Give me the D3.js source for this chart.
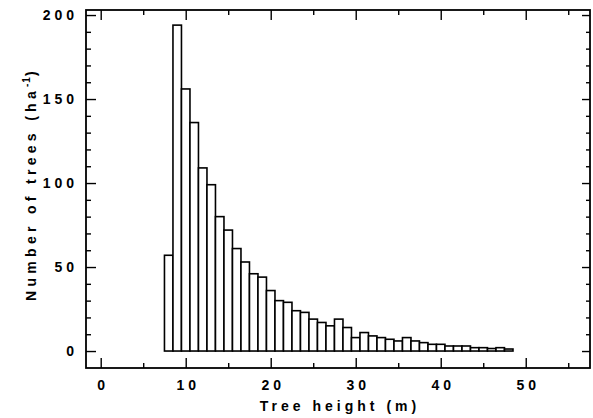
<!DOCTYPE html>
<html>
<head>
<meta charset="utf-8">
<script src="https://cdn.jsdelivr.net/npm/d3@7"></script>
<style>
  body { margin: 0; background: #fff; }
  text { font-family: "Liberation Sans", Arial, sans-serif; font-weight: bold; fill: #000; }
</style>
</head>
<body>
<div id="container"></div>
<script>
/* DATA */
const heights = [8, 9, 10, 11, 12, 13, 14, 15, 16, 17, 18, 19, 20, 21, 22, 23, 24, 25, 26, 27, 28,
  29, 30, 31, 32, 33, 34, 35, 36, 37, 38, 39, 40, 41, 42, 43, 44, 45, 46, 47, 48]
const trees = [57, 194, 156, 136, 109, 99, 80, 72, 61, 53, 46, 44, 36, 30, 29, 24, 23, 19, 17, 15, 19,
  14, 8, 11, 9, 8, 7, 6, 8, 6, 5, 4, 4, 3, 3, 3, 2, 2, 1.5, 2, 1.2]
const xTicks = [0, 10, 20, 30, 40, 50]
const yTicks = [0, 50, 100, 150, 200]

/* CONSTANTS */
const width = 593,
  height = 418,
  margin = {top: 10, bottom: 50, left: 86, right: 3}

const svg = d3.select("#container")
  .append("svg")
  .attr("width", width)
  .attr("height", height)

// SCALES
const xScale = d3.scaleLinear()
  .domain([-1.73, 57.56])
  .range([margin.left, width - margin.right])

const yScale = d3.scaleLinear()
  .domain([-10.1, 203])
  .range([height - margin.bottom, margin.top])

const data = heights.map((h, i) => ({h: h, n: trees[i]}))

// BARS
svg.selectAll("rect.bar")
  .data(data)
  .join("rect")
  .attr("class", "bar")
  .attr("x", d => xScale(d.h - 0.5))
  .attr("width", d => xScale(d.h + 0.5) - xScale(d.h - 0.5))
  .attr("y", d => yScale(d.n))
  .attr("height", d => yScale(0) - yScale(d.n))
  .attr("fill", "white")
  .attr("stroke", "black")
  .attr("stroke-width", 1.6)

// AXES
const xMinor = d3.range(5, 56, 10)
const yMinor = d3.range(10, 201, 10).filter(v => v % 50 !== 0)
const plotBottom = height - margin.bottom, plotTop = margin.top
const plotLeft = margin.left, plotRight = width - margin.right

function styleAxis(g) {
  g.select(".domain").remove()
  g.selectAll("line").attr("stroke", "black").attr("stroke-width", 1.4)
  g.selectAll("text").style("font-size", "14px").style("letter-spacing", "4px")
}

// bottom
svg.append("g")
  .attr("transform", `translate(0,${plotBottom})`)
  .call(d3.axisBottom(xScale).tickValues(xTicks).tickSizeInner(-10).tickPadding(12).tickFormat(d3.format("d")))
  .call(styleAxis)
  .call(g => g.selectAll("text").attr("dx", 2))
svg.append("g")
  .attr("transform", `translate(0,${plotBottom})`)
  .call(d3.axisBottom(xScale).tickValues(xMinor).tickSizeInner(-5).tickFormat(""))
  .call(styleAxis)

// top
svg.append("g")
  .attr("transform", `translate(0,${plotTop})`)
  .call(d3.axisTop(xScale).tickValues(xTicks).tickSizeInner(-10).tickFormat(""))
  .call(styleAxis)
svg.append("g")
  .attr("transform", `translate(0,${plotTop})`)
  .call(d3.axisTop(xScale).tickValues(xMinor).tickSizeInner(-5).tickFormat(""))
  .call(styleAxis)

// left
svg.append("g")
  .attr("transform", `translate(${plotLeft},0)`)
  .call(d3.axisLeft(yScale).tickValues(yTicks).tickSizeInner(-10).tickPadding(8).tickFormat(d3.format("d")))
  .call(styleAxis)
svg.append("g")
  .attr("transform", `translate(${plotLeft},0)`)
  .call(d3.axisLeft(yScale).tickValues(yMinor).tickSizeInner(-5).tickFormat(""))
  .call(styleAxis)

// right
svg.append("g")
  .attr("transform", `translate(${plotRight},0)`)
  .call(d3.axisRight(yScale).tickValues(yTicks).tickSizeInner(-8).tickFormat(""))
  .call(styleAxis)
svg.append("g")
  .attr("transform", `translate(${plotRight},0)`)
  .call(d3.axisRight(yScale).tickValues(yMinor).tickSizeInner(-4).tickFormat(""))
  .call(styleAxis)

// frame
svg.append("rect")
  .attr("x", plotLeft)
  .attr("y", plotTop)
  .attr("width", plotRight - plotLeft)
  .attr("height", plotBottom - plotTop)
  .attr("fill", "none")
  .attr("stroke", "black")
  .attr("stroke-width", 1.8)

// LABELS
svg.append("text")
  .attr("x", (plotLeft + plotRight) / 2 + 2)
  .attr("y", 411)
  .attr("text-anchor", "middle")
  .style("font-size", "14px")
  .style("letter-spacing", "4px")
  .text("Tree height (m)")

const ylab = svg.append("text")
  .attr("transform", "translate(36,184) rotate(-90)")
  .attr("text-anchor", "middle")
  .style("font-size", "14px")
  .style("letter-spacing", "4.3px")
ylab.append("tspan").text("Number of trees (ha")
ylab.append("tspan").attr("dy", -6).style("font-size", "10px").style("letter-spacing", "1px").text("-1")
ylab.append("tspan").attr("dy", 6).text(")")
</script>
</body>
</html>
